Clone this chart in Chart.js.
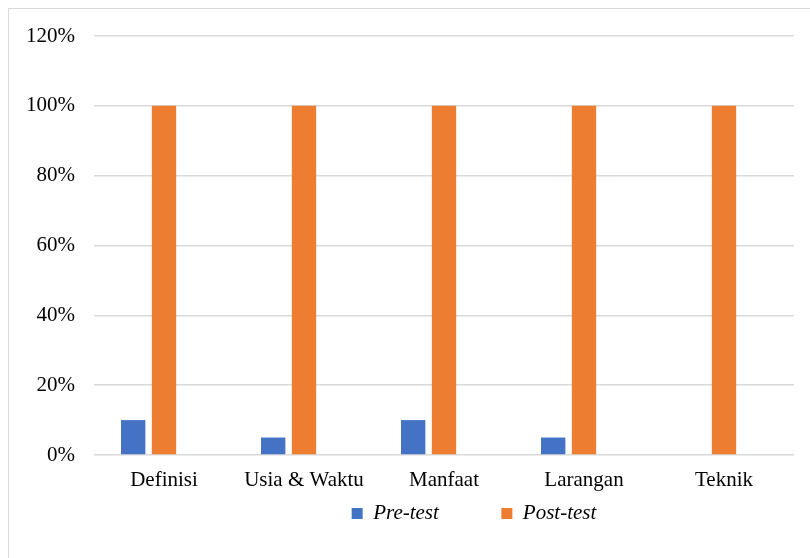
<!DOCTYPE html>
<html>
<head>
<meta charset="utf-8">
<script src="https://cdn.jsdelivr.net/npm/chart.js@4"></script>
<style>
  html, body { margin: 0; padding: 0; background: #fff; overflow: hidden; }
  #frame { position: absolute; left: 8px; top: 8px; width: 960px; height: 600px; border: 1px solid #d9d9d9; }
  #wrap { position: absolute; left: 0; top: 0; width: 948px; height: 558px; }
</style>
</head>
<body>
<div id="frame"></div>
<div id="wrap"><canvas id="myChart"></canvas></div>
<script>
// Datos del gráfico (porcentajes)
const categorias = ["Definisi", "Usia & Waktu", "Manfaat", "Larangan", "Teknik"];
const preTest = [10, 5, 10, 5, 0];
const postTest = [100, 100, 100, 100, 100];
const serieVacia = [null, null, null, null, null];
const ticksY = [0, 20, 40, 60, 80, 100, 120];

const fuente = "'Liberation Serif', 'Times New Roman', serif";

const data = {
    labels: categorias,
    datasets: [
        { label: "Pre-test", data: preTest, backgroundColor: "#4472C4" },
        { label: "Post-test", data: postTest, backgroundColor: "#ED7D31" },
        // serie vacía como en el original (deja el hueco a la derecha)
        { label: "", data: serieVacia, backgroundColor: "#A5A5A5" }
    ]
};

const config = {
    type: "bar",
    data,
    options: {
        responsive: true,
        maintainAspectRatio: false,
        animation: false,
        layout: { padding: { left: 0, right: 0, top: 36, bottom: 24 } },
        datasets: { bar: { categoryPercentage: 0.66, barPercentage: 0.79 } },
        scales: {
            x: {
                afterFit: (s) => { s.height = 38; },
                grid: { display: false, drawTicks: false },
                border: { display: false },
                ticks: { color: "#000", padding: 13, maxRotation: 0, font: { family: fuente, size: 21 } }
            },
            y: {
                min: 0,
                max: 120,
                afterBuildTicks: (s) => { s.ticks = ticksY.map(v => ({ value: v })); },
                afterFit: (s) => { s.width = 94; },
                grid: { color: "#d9d9d9", lineWidth: 1.5, drawTicks: false },
                border: { display: false },
                ticks: {
                    color: "#000",
                    padding: 19,
                    font: { family: fuente, size: 21 },
                    callback: (v) => v + "%"
                }
            },
            // el gráfico original sigue más allá del borde derecho de la ventana
            margenDerecho: {
                type: "linear",
                position: "right",
                afterFit: (s) => { s.width = 154; },
                grid: { display: false, drawTicks: false },
                border: { display: false },
                ticks: { display: false }
            }
        },
        plugins: {
            tooltip: { enabled: false },
            legend: {
                position: "bottom",
                labels: {
                    color: "#000",
                    boxWidth: 11,
                    boxHeight: 11,
                    padding: 10,
                    font: { family: fuente, size: 21, style: "italic" },
                    filter: (item) => item.text !== "",
                    generateLabels: (chart) => {
                        const items = Chart.defaults.plugins.legend.labels.generateLabels(chart);
                        // separación entre items como en el original
                        if (items[0]) items[0].text = items[0].text + "\u2003\u2003\u2002";
                        return items;
                    }
                }
            }
        }
    }
};

const chartInUse = new Chart(document.querySelector("#myChart"), config);
</script>
</body>
</html>
